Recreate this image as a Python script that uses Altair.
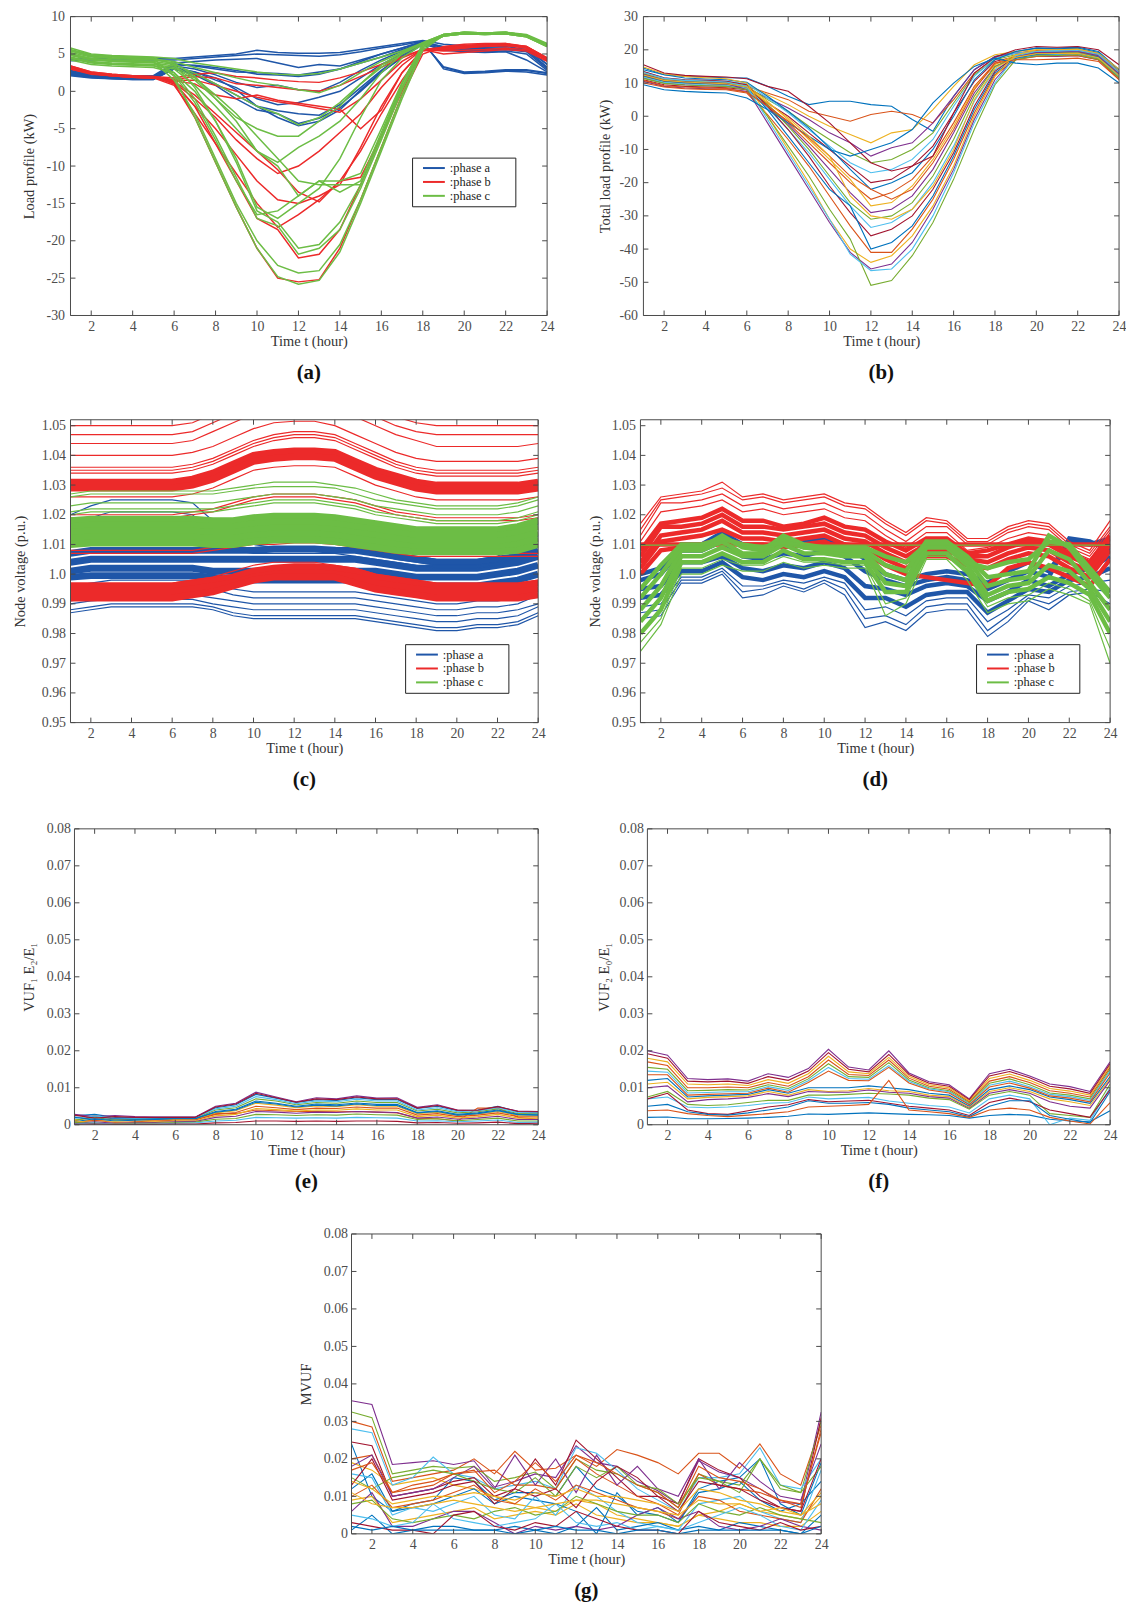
import altair as alt
import pandas as pd

# ---------------------------------------------------------------- data
hours = list(range(1, 25))
hour_ticks = [2, 4, 6, 8, 10, 12, 14, 16, 18, 20, 22, 24]
load_ticks = [-30, -25, -20, -15, -10, -5, 0, 5, 10]
total_ticks = [-60, -50, -40, -30, -20, -10, 0, 10, 20, 30]
voltage_ticks = [0.95, 0.96, 0.97, 0.98, 0.99, 1.0, 1.01, 1.02, 1.03, 1.04, 1.05]
vuf_ticks = [0, 0.01, 0.02, 0.03, 0.04, 0.05, 0.06, 0.07, 0.08]
phase_names = ["phase a", "phase b", "phase c"]

# (a) per-phase load profiles, kW
a_phase_a = [
    [4.3, 4.4, 4.4, 4.4, 4.4, 4.4, 4.6, 4.8, 5.0, 5.5, 5.2, 5.1, 5.1, 5.2, 5.6, 6.0, 6.4, 6.8, 6.3, 6.1, 6.1, 6.2, 5.9, 3.6],
    [4.1, 4.2, 4.2, 4.2, 4.2, 4.2, 4.4, 4.6, 4.8, 5.0, 4.9, 4.8, 4.7, 4.9, 5.3, 5.8, 6.2, 6.7, 5.9, 5.7, 5.8, 5.8, 5.5, 3.2],
    [2.8, 2.4, 2.2, 2.1, 2.1, 3.8, 4.0, 4.2, 4.3, 4.4, 3.8, 3.2, 3.6, 3.4, 4.2, 5.0, 5.8, 6.6, 3.2, 2.5, 2.6, 2.8, 2.8, 2.4],
    [2.6, 2.2, 2.0, 1.9, 1.9, 3.6, 3.4, 3.0, 2.6, 2.5, 2.4, 2.2, 2.6, 3.0, 3.8, 4.6, 5.6, 6.5, 3.3, 2.6, 2.7, 2.9, 2.9, 2.5],
    [2.5, 2.1, 1.9, 1.8, 1.8, 3.4, 3.0, 2.2, 1.2, 0.5, 0.8, 0.2, 0.0, 1.2, 2.8, 4.2, 5.4, 6.6, 5.8, 5.6, 5.7, 5.7, 5.6, 3.6],
    [2.4, 2.0, 1.8, 1.7, 1.7, 3.2, 2.6, 1.5, 0.5, -1.0, -1.8, -1.5, -0.8, 0.0, 1.8, 3.6, 5.0, 6.4, 5.6, 5.4, 5.5, 5.6, 5.3, 3.0],
    [2.3, 2.0, 1.8, 1.7, 1.7, 3.0, 2.4, 1.0, -0.5, -2.0, -2.6, -3.0, -3.2, -1.8, 0.5, 2.8, 4.8, 6.5, 6.0, 5.8, 5.9, 6.0, 5.6, 3.2],
    [2.2, 1.9, 1.7, 1.6, 1.6, 3.0, 2.2, 0.8, -1.0, -2.5, -3.0, -4.3, -3.6, -2.2, 0.0, 2.5, 4.6, 6.4, 5.5, 5.3, 5.2, 5.3, 4.2, 2.6],
    [2.7, 2.3, 2.1, 2.0, 2.0, 3.6, 3.5, 3.2, 2.8, 2.3, 2.2, 2.0, 2.3, 3.0, 4.0, 5.0, 5.8, 6.7, 3.0, 2.4, 2.5, 2.7, 2.6, 2.2],
    [2.1, 1.8, 1.7, 1.6, 1.6, 3.0, 2.6, 1.8, 0.2, -2.0, -3.5, -4.6, -4.0, -2.5, 0.2, 2.6, 4.5, 6.3, 5.7, 5.4, 5.3, 5.4, 5.0, 2.8],
]
a_phase_b = [
    [3.4, 2.6, 2.3, 2.1, 2.0, 1.8, 2.3, 2.5, 2.0, 1.8, 1.5, 1.3, 1.2, 1.8, 2.6, 3.6, 4.6, 5.6, 5.4, 5.5, 5.6, 5.8, 5.6, 4.2],
    [3.2, 2.5, 2.2, 2.0, 1.9, 1.6, 2.0, 1.8, 1.0, 0.8, 0.5, 0.2, 0.0, 0.8, 2.0, 3.2, 4.5, 5.6, 5.0, 5.2, 5.4, 5.6, 5.4, 4.0],
    [3.0, 2.4, 2.1, 1.9, 1.8, 1.5, 1.5, 0.8, 0.0, -0.8, -1.4, -1.8, -2.3, -2.8, -1.0, 1.5, 4.0, 5.6, 5.8, 6.0, 6.2, 6.3, 6.0, 4.4],
    [3.3, 2.5, 2.2, 2.0, 1.9, 1.4, 1.0, -0.5, -1.0, -0.5, -1.2, -1.6, -2.0, -2.4, -5.0, -2.5, 2.5, 5.5, 5.5, 5.8, 6.1, 6.2, 5.9, 4.3],
    [3.1, 2.4, 2.1, 1.9, 1.8, 1.2, -1.0, -3.5, -6.5, -9.0, -11.0, -10.0, -8.0, -5.5, -3.0, 0.5, 3.5, 5.6, 5.6, 5.8, 6.0, 6.1, 5.8, 4.1],
    [3.2, 2.5, 2.2, 2.0, 1.9, 1.0, -2.0, -5.0, -8.5, -12.0, -14.5, -15.0, -14.0, -12.5, -7.5, -2.0, 2.5, 5.6, 5.9, 6.1, 6.3, 6.3, 6.0, 4.5],
    [3.0, 2.3, 2.1, 1.9, 1.8, 0.8, -3.0, -7.0, -11.0, -15.0, -18.2, -16.5, -14.5, -12.0, -8.0, -3.0, 1.5, 5.4, 5.7, 6.0, 6.2, 6.2, 5.9, 4.3],
    [3.3, 2.5, 2.2, 2.0, 1.9, 1.2, -2.0, -7.0, -12.0, -17.0, -18.5, -22.3, -21.8, -18.5, -12.5, -6.0, 0.5, 5.5, 5.8, 6.1, 6.3, 6.4, 6.0, 4.4],
    [3.4, 2.6, 2.3, 2.1, 2.0, 1.0, -3.5, -9.5, -15.5, -21.0, -25.0, -25.5, -25.2, -21.0, -14.5, -7.5, -0.5, 5.0, 6.0, 6.3, 6.4, 6.4, 5.8, 4.3],
    [3.1, 2.4, 2.1, 1.9, 1.8, 1.3, -0.5, -3.0, -5.5, -8.0, -10.5, -13.5, -14.8, -12.0, -11.5, -6.0, 0.0, 5.5, 5.7, 5.9, 6.1, 6.2, 5.9, 4.2],
]
a_phase_c = [
    [5.8, 5.0, 4.8, 4.7, 4.6, 4.4, 3.8, 3.4, 3.0, 2.6, 2.3, 2.2, 2.4, 3.0, 3.8, 4.6, 5.4, 6.5, 7.6, 7.9, 7.8, 7.9, 7.6, 6.4],
    [5.4, 4.7, 4.5, 4.4, 4.3, 4.0, 3.2, 2.5, 1.8, 1.2, 0.8, 0.2, -0.2, 0.8, 2.5, 4.0, 5.2, 6.4, 7.5, 7.8, 7.8, 7.8, 7.5, 6.2],
    [5.0, 4.4, 4.2, 4.1, 4.0, 3.6, 2.4, 1.0, -0.5, -2.0, -3.0, -4.5, -3.5, -1.5, 1.0, 3.2, 5.0, 6.4, 7.4, 7.7, 7.6, 7.7, 7.4, 6.1],
    [4.6, 4.0, 3.8, 3.7, 3.6, 3.2, 1.5, -1.0, -3.5, -5.0, -6.0, -6.0, -4.0, -2.0, 1.0, 3.5, 5.2, 6.4, 7.5, 7.8, 7.7, 7.8, 7.4, 6.2],
    [4.4, 3.8, 3.6, 3.5, 3.4, 3.0, 0.8, -2.0, -5.0, -8.0, -9.5, -7.5, -6.0, -4.0, -1.0, 2.5, 5.0, 6.5, 7.6, 7.9, 7.8, 7.9, 7.5, 6.3],
    [4.8, 4.2, 4.0, 3.9, 3.8, 3.4, 1.8, -0.5, -3.0, -6.0, -9.0, -12.0, -12.5, -12.5, -12.5, -6.0, 1.0, 6.3, 7.5, 7.8, 7.7, 7.8, 7.4, 6.1],
    [5.2, 4.6, 4.4, 4.3, 4.2, 3.8, 2.0, -1.0, -4.0, -8.0, -10.0, -14.0, -12.0, -13.5, -12.0, -5.5, 1.0, 6.3, 7.6, 7.9, 7.8, 7.9, 7.5, 6.2],
    [4.2, 3.6, 3.4, 3.3, 3.2, 2.5, 0.0, -4.0, -9.0, -15.5, -17.0, -15.0, -13.0, -9.0, -3.5, 1.5, 4.5, 6.3, 7.4, 7.7, 7.7, 7.7, 7.3, 6.0],
    [5.6, 4.9, 4.7, 4.6, 4.5, 3.6, 0.5, -4.0, -9.5, -16.0, -17.5, -21.0, -20.5, -17.5, -12.5, -6.0, 0.5, 6.2, 7.5, 7.8, 7.8, 7.8, 7.4, 6.3],
    [4.9, 4.3, 4.1, 4.0, 3.9, 2.5, -1.0, -6.0, -11.5, -17.0, -18.0, -21.8, -21.0, -18.5, -13.0, -6.5, 0.2, 6.0, 7.4, 7.7, 7.6, 7.7, 7.3, 6.0],
    [5.5, 4.8, 4.6, 4.5, 4.4, 2.0, -3.5, -9.5, -15.5, -21.0, -24.8, -25.8, -25.3, -21.5, -15.0, -8.0, -1.0, 5.5, 7.5, 7.8, 7.8, 7.9, 7.5, 6.2],
    [5.0, 4.4, 4.2, 4.1, 4.0, 1.5, -3.0, -9.0, -15.0, -20.0, -23.3, -24.3, -24.0, -20.5, -14.5, -7.5, -0.5, 5.8, 7.6, 7.9, 7.8, 7.8, 7.4, 6.0],
    [4.5, 3.9, 3.7, 3.6, 3.5, 2.2, -1.5, -6.5, -12.0, -16.5, -16.0, -14.0, -12.0, -12.0, -11.0, -5.0, 1.2, 6.2, 7.4, 7.7, 7.6, 7.7, 7.3, 6.1],
]

# (b) total load profile per bus, kW
b_total = [
    [14.0, 12.5, 12.0, 11.8, 11.6, 11.5, 9.0, 6.0, 3.5, 4.5, 4.5, 3.5, 3.0, -1.0, -4.5, 6.0, 14.0, 18.0, 19.5, 20.5, 20.5, 20.8, 19.5, 14.0],
    [12.0, 10.5, 10.0, 9.8, 9.6, 9.0, 7.0, 5.0, 1.5, 0.0, -1.5, 0.5, 1.5, 0.5, -2.0, 5.0, 13.0, 17.5, 19.0, 19.8, 19.6, 19.5, 18.5, 13.0],
    [13.0, 11.0, 10.5, 10.2, 10.0, 9.5, 6.5, 3.5, 0.0, -3.0, -5.5, -8.0, -5.0, -4.0, 2.0, 9.0, 15.5, 18.5, 19.5, 20.0, 20.0, 20.2, 19.0, 13.5],
    [11.5, 10.0, 9.5, 9.2, 9.0, 8.5, 5.5, 2.5, -1.0, -5.0, -8.0, -12.0, -9.5, -8.0, -2.0, 6.0, 14.0, 18.0, 19.0, 19.5, 19.5, 19.8, 18.5, 13.0],
    [12.5, 10.8, 10.2, 10.0, 9.8, 9.0, 5.0, 1.5, -3.0, -7.0, -11.0, -14.0, -13.0, -10.0, -5.0, 4.0, 12.5, 17.0, 18.5, 19.0, 19.0, 19.2, 18.0, 12.5],
    [13.5, 11.5, 11.0, 10.8, 10.5, 9.8, 5.5, 1.0, -4.0, -9.0, -14.0, -17.0, -16.0, -13.0, -7.0, 3.0, 12.0, 17.5, 19.0, 19.5, 19.8, 20.0, 18.8, 13.0],
    [11.0, 9.5, 9.0, 8.8, 8.6, 8.0, 4.0, 0.0, -5.0, -10.0, -15.0, -20.0, -19.0, -15.0, -9.0, 1.0, 10.5, 16.5, 18.0, 18.5, 18.5, 18.8, 17.5, 12.0],
    [14.5, 12.5, 11.5, 11.2, 11.0, 10.2, 6.0, 1.5, -3.5, -9.5, -16.0, -22.0, -20.0, -17.0, -10.0, 0.0, 11.0, 17.0, 19.5, 20.5, 20.3, 20.5, 19.2, 14.0],
    [12.0, 10.5, 10.0, 9.8, 9.5, 8.5, 3.5, -2.0, -8.0, -14.0, -20.0, -25.0, -23.0, -19.0, -12.0, -2.0, 9.0, 16.0, 18.0, 18.5, 18.8, 19.0, 17.8, 12.5],
    [13.0, 11.2, 10.6, 10.4, 10.2, 9.2, 4.5, -1.0, -7.0, -13.0, -19.0, -27.0, -26.0, -21.0, -13.0, -3.0, 8.5, 15.5, 18.5, 19.5, 19.5, 19.7, 18.5, 13.0],
    [10.5, 9.0, 8.5, 8.3, 8.2, 7.5, 3.0, -2.5, -9.0, -16.0, -23.0, -29.0, -28.0, -24.0, -16.0, -5.0, 7.0, 15.0, 17.5, 18.0, 18.0, 18.2, 17.0, 11.5],
    [12.8, 11.0, 10.5, 10.2, 10.0, 9.0, 3.5, -3.0, -10.0, -18.0, -26.0, -31.0, -30.0, -26.0, -18.0, -7.0, 6.0, 15.0, 18.0, 19.0, 19.2, 19.3, 18.0, 12.8],
    [11.8, 10.2, 9.8, 9.5, 9.3, 8.5, 2.5, -4.0, -11.0, -19.0, -27.0, -33.5, -32.0, -28.0, -20.0, -9.0, 4.5, 14.0, 17.5, 18.5, 18.6, 18.8, 17.5, 12.0],
    [13.5, 11.6, 11.0, 10.8, 10.5, 9.5, 3.0, -4.0, -12.0, -21.0, -29.0, -36.0, -34.0, -30.0, -22.0, -11.0, 3.0, 13.5, 18.0, 19.3, 19.5, 19.6, 18.5, 13.2],
    [12.2, 10.6, 10.1, 9.9, 9.7, 8.8, 2.0, -6.0, -14.0, -22.0, -27.0, -40.0, -38.0, -33.0, -24.0, -12.0, 2.0, 13.0, 17.5, 18.6, 18.8, 19.0, 17.8, 12.5],
    [10.0, 8.8, 8.3, 8.1, 8.0, 7.0, 0.5, -7.0, -15.0, -24.0, -33.0, -41.0, -41.0, -34.0, -25.0, -13.0, 1.0, 12.5, 17.0, 18.0, 18.2, 18.3, 17.0, 11.0],
    [14.8, 12.8, 12.0, 11.6, 11.3, 10.0, 0.0, -10.0, -20.0, -31.0, -40.0, -44.0, -42.0, -36.0, -27.0, -15.0, 0.0, 12.0, 18.5, 20.0, 20.0, 20.2, 19.0, 14.2],
    [12.6, 10.9, 10.4, 10.1, 9.9, 8.0, -2.0, -12.0, -22.0, -32.0, -41.0, -46.0, -44.5, -38.0, -28.0, -16.0, -1.0, 11.0, 18.0, 19.2, 19.3, 19.5, 18.2, 12.8],
    [11.4, 9.9, 9.4, 9.2, 9.0, 8.0, 0.0, -9.0, -18.0, -28.0, -37.0, -50.9, -49.5, -42.0, -32.0, -19.0, -4.0, 9.5, 17.0, 18.2, 18.3, 18.5, 17.2, 11.6],
    [13.2, 11.4, 10.8, 10.6, 10.3, 9.0, -1.0, -11.0, -21.0, -31.0, -41.5, -46.5, -46.0, -40.0, -30.0, -17.0, -2.0, 10.0, 18.2, 19.5, 19.6, 19.8, 18.6, 13.2],
    [15.5, 13.0, 12.3, 12.0, 11.8, 11.3, 9.0, 7.5, 3.0, -2.0, -8.0, -14.0, -16.5, -15.0, -12.0, 1.0, 13.0, 17.8, 20.0, 21.0, 20.8, 21.0, 20.0, 15.5],
    [9.5, 8.0, 7.5, 7.2, 7.0, 5.5, 2.0, -2.0, -6.0, -10.0, -12.0, -10.0, -8.0, -4.0, 4.0, 10.0, 15.0, 17.5, 16.0, 15.5, 16.0, 16.0, 14.5, 10.0],
    [10.8, 9.2, 8.8, 8.6, 8.4, 7.2, 3.0, -1.5, -6.5, -12.0, -18.0, -22.0, -25.0, -22.0, -14.0, -4.0, 8.0, 16.0, 17.0, 17.0, 17.2, 17.5, 16.5, 11.0],
    [12.4, 10.8, 10.3, 10.0, 9.8, 8.8, 4.0, -0.5, -6.0, -12.0, -24.0, -30.0, -31.0, -28.0, -21.0, -10.0, 5.0, 14.5, 17.8, 18.8, 18.9, 19.0, 17.6, 12.3],
]

# (c) node voltages, p.u.
c_phase_a = [
    [0.987, 0.988, 0.989, 0.989, 0.989, 0.989, 0.989, 0.988, 0.986, 0.985, 0.985, 0.985, 0.985, 0.985, 0.985, 0.984, 0.983, 0.982, 0.981, 0.981, 0.982, 0.982, 0.983, 0.986],
    [0.988, 0.989, 0.990, 0.990, 0.990, 0.990, 0.990, 0.989, 0.987, 0.986, 0.986, 0.986, 0.986, 0.986, 0.986, 0.985, 0.984, 0.983, 0.982, 0.982, 0.983, 0.983, 0.984, 0.987],
    [0.990, 0.991, 0.9915, 0.9915, 0.9915, 0.9915, 0.9915, 0.990, 0.989, 0.988, 0.988, 0.988, 0.988, 0.988, 0.988, 0.987, 0.986, 0.985, 0.984, 0.984, 0.985, 0.985, 0.986, 0.989],
    [0.991, 0.992, 0.993, 0.993, 0.993, 0.993, 0.993, 0.992, 0.991, 0.990, 0.990, 0.990, 0.990, 0.990, 0.990, 0.989, 0.988, 0.987, 0.986, 0.986, 0.987, 0.987, 0.988, 0.990],
    [0.994, 0.995, 0.996, 0.996, 0.996, 0.996, 0.996, 0.995, 0.993, 0.992, 0.992, 0.992, 0.992, 0.992, 0.992, 0.991, 0.990, 0.989, 0.988, 0.988, 0.989, 0.989, 0.990, 0.993],
    [0.996, 0.997, 0.998, 0.998, 0.998, 0.998, 0.998, 0.997, 0.995, 0.994, 0.994, 0.994, 0.994, 0.994, 0.994, 0.993, 0.992, 0.991, 0.990, 0.990, 0.991, 0.991, 0.992, 0.995],
    [1.020, 1.023, 1.025, 1.025, 1.025, 1.025, 1.024, 1.018, 1.014, 1.012, 1.011, 1.011, 1.011, 1.011, 1.010, 1.009, 1.007, 1.006, 1.005, 1.005, 1.005, 1.006, 1.010, 1.019],
    [1.016, 1.019, 1.021, 1.021, 1.021, 1.021, 1.020, 1.014, 1.011, 1.010, 1.009, 1.009, 1.009, 1.009, 1.008, 1.007, 1.005, 1.004, 1.003, 1.003, 1.003, 1.004, 1.008, 1.017],
    [1.011, 1.013, 1.014, 1.014, 1.014, 1.014, 1.013, 1.010, 1.008, 1.007, 1.007, 1.007, 1.007, 1.007, 1.006, 1.005, 1.004, 1.003, 1.002, 1.002, 1.002, 1.003, 1.006, 1.013],
]
c_phase_a_dense = [
    [1.007, 1.008, 1.008, 1.008, 1.008, 1.008, 1.008, 1.008, 1.008, 1.008, 1.0085, 1.0085, 1.0085, 1.008, 1.008, 1.007, 1.006, 1.005, 1.004, 1.004, 1.004, 1.005, 1.006, 1.008],
    [1.004, 1.005, 1.005, 1.005, 1.005, 1.005, 1.005, 1.005, 1.005, 1.005, 1.005, 1.005, 1.005, 1.005, 1.005, 1.004, 1.003, 1.002, 1.002, 1.002, 1.002, 1.003, 1.004, 1.006],
    [1.001, 1.002, 1.002, 1.002, 1.002, 1.002, 1.002, 1.001, 1.001, 1.001, 1.001, 1.001, 1.001, 1.001, 1.001, 1.001, 1.000, 0.999, 0.999, 0.999, 0.999, 1.000, 1.001, 1.003],
    [0.999, 0.9995, 0.9995, 0.9995, 0.9995, 0.9995, 0.9995, 0.999, 0.998, 0.998, 0.998, 0.998, 0.998, 0.998, 0.998, 0.998, 0.997, 0.996, 0.996, 0.996, 0.996, 0.997, 0.998, 1.000],
]
c_phase_b = [
    [1.050, 1.050, 1.050, 1.050, 1.050, 1.050, 1.051, 1.054, 1.057, 1.060, 1.062, 1.063, 1.063, 1.062, 1.059, 1.056, 1.053, 1.051, 1.050, 1.050, 1.050, 1.050, 1.050, 1.050],
    [1.047, 1.047, 1.047, 1.047, 1.047, 1.047, 1.048, 1.051, 1.054, 1.057, 1.059, 1.060, 1.060, 1.059, 1.056, 1.053, 1.050, 1.048, 1.047, 1.047, 1.047, 1.047, 1.047, 1.047],
    [1.044, 1.044, 1.044, 1.044, 1.044, 1.044, 1.045, 1.048, 1.051, 1.054, 1.056, 1.057, 1.057, 1.056, 1.053, 1.050, 1.047, 1.045, 1.043, 1.043, 1.043, 1.043, 1.043, 1.044],
    [1.040, 1.040, 1.040, 1.040, 1.040, 1.040, 1.041, 1.043, 1.046, 1.049, 1.051, 1.0515, 1.0515, 1.050, 1.047, 1.044, 1.041, 1.039, 1.038, 1.038, 1.038, 1.038, 1.038, 1.039],
    [1.036, 1.036, 1.036, 1.036, 1.036, 1.036, 1.037, 1.039, 1.042, 1.045, 1.047, 1.048, 1.048, 1.047, 1.044, 1.041, 1.038, 1.036, 1.035, 1.035, 1.035, 1.035, 1.035, 1.036],
    [1.035, 1.035, 1.035, 1.035, 1.035, 1.035, 1.036, 1.038, 1.041, 1.044, 1.046, 1.047, 1.047, 1.046, 1.043, 1.040, 1.037, 1.035, 1.034, 1.034, 1.034, 1.034, 1.034, 1.035],
    [1.034, 1.034, 1.034, 1.034, 1.034, 1.034, 1.035, 1.037, 1.040, 1.043, 1.045, 1.046, 1.046, 1.045, 1.042, 1.039, 1.036, 1.034, 1.033, 1.033, 1.033, 1.033, 1.033, 1.034],
    [1.026, 1.026, 1.026, 1.026, 1.026, 1.026, 1.027, 1.029, 1.032, 1.035, 1.036, 1.0365, 1.0365, 1.036, 1.033, 1.030, 1.028, 1.026, 1.025, 1.025, 1.025, 1.025, 1.025, 1.026],
    [1.020, 1.020, 1.020, 1.020, 1.020, 1.020, 1.021, 1.022, 1.024, 1.026, 1.027, 1.027, 1.027, 1.026, 1.025, 1.023, 1.021, 1.020, 1.019, 1.019, 1.019, 1.019, 1.019, 1.020],
    [1.019, 1.019, 1.019, 1.019, 1.019, 1.019, 1.020, 1.021, 1.023, 1.025, 1.026, 1.026, 1.026, 1.025, 1.024, 1.022, 1.020, 1.019, 1.018, 1.018, 1.018, 1.018, 1.018, 1.019],
    [1.008, 1.008, 1.008, 1.008, 1.008, 1.008, 1.008, 1.009, 1.010, 1.011, 1.011, 1.0115, 1.0115, 1.011, 1.010, 1.009, 1.008, 1.007, 1.007, 1.007, 1.007, 1.007, 1.007, 1.007],
    [1.007, 1.007, 1.007, 1.007, 1.007, 1.007, 1.007, 1.008, 1.009, 1.010, 1.010, 1.0105, 1.0105, 1.010, 1.009, 1.008, 1.007, 1.006, 1.006, 1.006, 1.006, 1.006, 1.006, 1.006],
    [0.997, 0.997, 0.997, 0.997, 0.997, 0.997, 0.998, 0.999, 1.001, 1.003, 1.004, 1.004, 1.004, 1.003, 1.002, 1.000, 0.999, 0.998, 0.997, 0.997, 0.997, 0.997, 0.997, 0.998],
]
c_phase_b_dense = [
    [1.031, 1.031, 1.031, 1.031, 1.031, 1.031, 1.032, 1.034, 1.037, 1.040, 1.041, 1.0415, 1.0415, 1.041, 1.038, 1.035, 1.033, 1.031, 1.030, 1.030, 1.030, 1.030, 1.030, 1.031],
    [1.029, 1.029, 1.029, 1.029, 1.029, 1.029, 1.030, 1.032, 1.035, 1.038, 1.039, 1.0395, 1.0395, 1.039, 1.036, 1.033, 1.031, 1.029, 1.028, 1.028, 1.028, 1.028, 1.028, 1.029],
    [0.996, 0.996, 0.996, 0.996, 0.996, 0.996, 0.997, 0.998, 0.999, 1.001, 1.002, 1.0025, 1.0025, 1.002, 1.001, 0.999, 0.998, 0.997, 0.996, 0.996, 0.996, 0.996, 0.996, 0.997],
    [0.994, 0.994, 0.994, 0.994, 0.994, 0.994, 0.995, 0.996, 0.997, 0.999, 1.000, 1.0005, 1.0005, 1.000, 0.999, 0.997, 0.996, 0.995, 0.994, 0.994, 0.994, 0.994, 0.994, 0.995],
    [0.992, 0.992, 0.992, 0.992, 0.992, 0.992, 0.993, 0.994, 0.996, 0.998, 0.999, 0.999, 0.999, 0.999, 0.997, 0.995, 0.994, 0.993, 0.992, 0.992, 0.992, 0.992, 0.992, 0.993],
]
c_phase_c = [
    [1.027, 1.028, 1.028, 1.028, 1.028, 1.028, 1.028, 1.028, 1.029, 1.030, 1.031, 1.031, 1.031, 1.030, 1.029, 1.027, 1.025, 1.024, 1.023, 1.023, 1.023, 1.023, 1.024, 1.026],
    [1.026, 1.027, 1.027, 1.027, 1.027, 1.027, 1.027, 1.027, 1.028, 1.029, 1.0295, 1.0295, 1.0295, 1.029, 1.027, 1.025, 1.024, 1.023, 1.022, 1.022, 1.022, 1.022, 1.023, 1.025],
    [1.023, 1.024, 1.024, 1.024, 1.024, 1.024, 1.024, 1.024, 1.025, 1.026, 1.027, 1.027, 1.027, 1.026, 1.025, 1.023, 1.022, 1.021, 1.020, 1.020, 1.020, 1.020, 1.021, 1.023],
    [1.021, 1.022, 1.022, 1.022, 1.022, 1.022, 1.022, 1.022, 1.023, 1.024, 1.025, 1.025, 1.025, 1.024, 1.023, 1.021, 1.020, 1.019, 1.018, 1.018, 1.018, 1.018, 1.019, 1.021],
    [1.020, 1.021, 1.021, 1.021, 1.021, 1.021, 1.021, 1.021, 1.022, 1.023, 1.024, 1.024, 1.024, 1.023, 1.022, 1.020, 1.019, 1.018, 1.017, 1.017, 1.017, 1.017, 1.018, 1.020],
]
c_phase_c_dense = [
    [1.018, 1.0185, 1.0185, 1.0185, 1.0185, 1.0185, 1.0185, 1.018, 1.018, 1.019, 1.0195, 1.0195, 1.0195, 1.019, 1.018, 1.017, 1.016, 1.015, 1.015, 1.015, 1.015, 1.015, 1.016, 1.018],
    [1.016, 1.0165, 1.0165, 1.0165, 1.0165, 1.0165, 1.0165, 1.016, 1.016, 1.017, 1.0175, 1.0175, 1.0175, 1.017, 1.016, 1.015, 1.014, 1.013, 1.013, 1.013, 1.013, 1.013, 1.014, 1.016],
    [1.014, 1.0145, 1.0145, 1.0145, 1.0145, 1.0145, 1.0145, 1.014, 1.014, 1.015, 1.0155, 1.0155, 1.0155, 1.015, 1.014, 1.013, 1.012, 1.011, 1.011, 1.011, 1.011, 1.011, 1.012, 1.014],
    [1.012, 1.0125, 1.0125, 1.0125, 1.0125, 1.0125, 1.0125, 1.012, 1.012, 1.013, 1.0135, 1.0135, 1.0135, 1.013, 1.012, 1.011, 1.010, 1.009, 1.009, 1.009, 1.009, 1.009, 1.010, 1.012],
    [1.010, 1.0105, 1.0105, 1.0105, 1.0105, 1.0105, 1.0105, 1.010, 1.010, 1.011, 1.0115, 1.0115, 1.0115, 1.011, 1.010, 1.009, 1.008, 1.0075, 1.0075, 1.0075, 1.0075, 1.0075, 1.008, 1.010],
]

# (d) node voltages after optimisation, p.u.
d_phase_a = [
    [0.985, 0.986, 0.997, 0.997, 1.000, 0.992, 0.993, 0.996, 0.994, 0.997, 0.993, 0.982, 0.984, 0.981, 0.987, 0.988, 0.988, 0.979, 0.984, 0.991, 0.988, 0.993, 0.994, 0.990],
    [0.987, 0.988, 0.998, 0.998, 1.001, 0.994, 0.995, 0.997, 0.995, 0.998, 0.995, 0.985, 0.986, 0.983, 0.989, 0.990, 0.990, 0.981, 0.986, 0.992, 0.990, 0.994, 0.995, 0.994],
    [0.989, 0.990, 0.999, 0.999, 1.002, 0.996, 0.996, 0.998, 0.997, 0.999, 0.997, 0.988, 0.989, 0.986, 0.991, 0.992, 0.992, 0.984, 0.988, 0.993, 0.992, 0.996, 0.997, 0.998],
]
d_phase_a_dense = [
    [0.992, 0.993, 1.001, 1.001, 1.004, 0.999, 0.998, 1.000, 0.999, 1.001, 0.999, 0.992, 0.992, 0.989, 0.993, 0.994, 0.994, 0.987, 0.991, 0.995, 0.994, 0.998, 0.999, 1.002],
    [0.995, 0.996, 1.004, 1.004, 1.006, 1.002, 1.001, 1.003, 1.002, 1.004, 1.002, 0.996, 0.995, 0.993, 0.996, 0.997, 0.996, 0.991, 0.994, 0.998, 0.996, 1.000, 1.002, 1.006],
    [0.998, 1.000, 1.008, 1.008, 1.011, 1.006, 1.005, 1.007, 1.006, 1.008, 1.006, 1.001, 0.998, 0.996, 0.998, 0.999, 0.998, 0.995, 0.998, 1.001, 0.999, 1.012, 1.011, 1.008],
    [1.000, 1.002, 1.010, 1.010, 1.014, 1.010, 1.009, 1.010, 1.011, 1.012, 1.010, 1.005, 1.000, 0.998, 1.000, 1.001, 1.000, 0.997, 1.001, 1.004, 1.001, 1.011, 1.010, 1.012],
]
d_phase_b = [
    [1.017, 1.026, 1.027, 1.028, 1.031, 1.026, 1.027, 1.025, 1.026, 1.027, 1.024, 1.023, 1.018, 1.014, 1.019, 1.018, 1.012, 1.012, 1.016, 1.018, 1.017, 1.011, 1.008, 1.018],
    [1.015, 1.025, 1.026, 1.027, 1.029, 1.025, 1.026, 1.024, 1.025, 1.026, 1.023, 1.022, 1.017, 1.013, 1.018, 1.017, 1.011, 1.011, 1.015, 1.017, 1.016, 1.010, 1.007, 1.016],
    [1.013, 1.024, 1.024, 1.025, 1.027, 1.023, 1.024, 1.022, 1.023, 1.024, 1.021, 1.020, 1.015, 1.011, 1.016, 1.016, 1.010, 1.010, 1.014, 1.016, 1.015, 1.009, 1.006, 1.015],
    [1.011, 1.021, 1.022, 1.023, 1.025, 1.021, 1.022, 1.020, 1.021, 1.022, 1.019, 1.018, 1.013, 1.009, 1.014, 1.014, 1.008, 1.009, 1.012, 1.014, 1.013, 1.008, 1.005, 1.014],
]
d_phase_b_dense = [
    [1.008, 1.017, 1.018, 1.019, 1.022, 1.018, 1.018, 1.016, 1.017, 1.019, 1.016, 1.015, 1.011, 1.008, 1.012, 1.012, 1.007, 1.008, 1.010, 1.012, 1.011, 1.007, 1.004, 1.013],
    [1.006, 1.016, 1.016, 1.017, 1.020, 1.016, 1.016, 1.015, 1.016, 1.017, 1.014, 1.013, 1.009, 1.006, 1.010, 1.010, 1.006, 1.006, 1.009, 1.011, 1.010, 1.006, 1.003, 1.012],
    [1.004, 1.013, 1.014, 1.015, 1.018, 1.014, 1.014, 1.013, 1.014, 1.015, 1.012, 1.011, 1.007, 1.004, 1.008, 1.008, 1.005, 1.004, 1.007, 1.009, 1.008, 1.004, 1.001, 1.010],
    [1.002, 1.011, 1.012, 1.013, 1.015, 1.012, 1.012, 1.011, 1.012, 1.013, 1.010, 1.009, 1.005, 1.002, 1.006, 1.006, 1.003, 1.002, 1.005, 1.007, 1.006, 1.002, 0.999, 1.008],
    [1.000, 1.008, 1.009, 1.010, 1.012, 1.010, 1.010, 1.009, 1.010, 1.011, 1.008, 1.007, 1.003, 1.000, 0.999, 0.998, 0.997, 0.996, 1.002, 1.004, 1.002, 0.999, 0.996, 1.005],
    [1.010, 1.010, 1.010, 1.010, 1.010, 1.010, 1.010, 1.010, 1.010, 1.010, 1.010, 1.010, 1.010, 1.010, 1.010, 1.010, 1.010, 1.010, 1.010, 1.010, 1.010, 1.010, 1.010, 1.010],
]
d_phase_c = [
    [0.974, 0.983, 1.000, 1.000, 1.003, 1.001, 1.001, 1.004, 1.002, 1.003, 1.002, 1.002, 0.986, 0.990, 1.005, 1.005, 0.998, 0.987, 0.990, 0.991, 0.995, 0.993, 0.990, 0.970],
    [0.977, 0.985, 1.002, 1.002, 1.005, 1.003, 1.003, 1.006, 1.004, 1.004, 1.003, 1.003, 0.990, 0.992, 1.006, 1.006, 1.000, 0.989, 0.992, 0.993, 0.997, 0.995, 0.991, 0.975],
    [1.0098, 1.0098, 1.0098, 1.0098, 1.0098, 1.0098, 1.0098, 1.0098, 1.0098, 1.0098, 1.0098, 1.0098, 1.0098, 1.0098, 1.0098, 1.0098, 1.0098, 1.0098, 1.0098, 1.0098, 1.0098, 1.0098, 1.0098, 1.0098],
]
d_phase_c_dense = [
    [0.980, 0.988, 1.004, 1.004, 1.007, 1.004, 1.004, 1.008, 1.005, 1.005, 1.004, 1.004, 0.994, 0.994, 1.007, 1.007, 1.001, 0.991, 0.994, 0.995, 0.999, 0.997, 0.993, 0.980],
    [0.984, 0.992, 1.006, 1.006, 1.009, 1.006, 1.006, 1.010, 1.007, 1.007, 1.006, 1.006, 0.997, 0.996, 1.009, 1.009, 1.003, 0.993, 0.996, 0.997, 1.003, 1.001, 0.995, 0.984],
    [0.988, 0.996, 1.008, 1.008, 1.011, 1.007, 1.007, 1.012, 1.009, 1.008, 1.007, 1.007, 1.000, 0.998, 1.010, 1.010, 1.005, 0.996, 0.998, 0.999, 1.008, 1.005, 0.997, 0.988],
    [0.992, 1.000, 1.009, 1.009, 1.013, 1.009, 1.008, 1.013, 1.010, 1.009, 1.008, 1.008, 1.003, 1.001, 1.011, 1.011, 1.006, 0.999, 1.000, 1.001, 1.013, 1.009, 1.000, 0.992],
    [0.995, 1.003, 1.010, 1.010, 1.012, 1.010, 1.009, 1.011, 1.009, 1.009, 1.009, 1.009, 1.006, 1.004, 1.010, 1.010, 1.004, 1.002, 1.004, 1.005, 1.011, 1.010, 1.002, 0.994],
]

# (e) VUF1 = E2/E1
e_vuf1 = [
    [0.0024, 0.0028, 0.0020, 0.0019, 0.0020, 0.0020, 0.0020, 0.0046, 0.0054, 0.0082, 0.0072, 0.0060, 0.0068, 0.0066, 0.0073, 0.0068, 0.0068, 0.0044, 0.0050, 0.0038, 0.0040, 0.0050, 0.0035, 0.0034],
    [0.0010, 0.0025, 0.0015, 0.0014, 0.0014, 0.0015, 0.0015, 0.0030, 0.0030, 0.0040, 0.0038, 0.0036, 0.0036, 0.0035, 0.0036, 0.0034, 0.0032, 0.0018, 0.0016, 0.0010, 0.0045, 0.0045, 0.0020, 0.0015],
    [0.0015, 0.0010, 0.0014, 0.0010, 0.0012, 0.0014, 0.0015, 0.0032, 0.0038, 0.0058, 0.0053, 0.0046, 0.0051, 0.0049, 0.0054, 0.0050, 0.0050, 0.0030, 0.0034, 0.0025, 0.0029, 0.0036, 0.0025, 0.0024],
    [0.0028, 0.0022, 0.0025, 0.0022, 0.0021, 0.0021, 0.0021, 0.0050, 0.0058, 0.0088, 0.0075, 0.0062, 0.0073, 0.0070, 0.0078, 0.0072, 0.0073, 0.0047, 0.0054, 0.0040, 0.0038, 0.0048, 0.0037, 0.0036],
    [0.0012, 0.0020, 0.0012, 0.0014, 0.0016, 0.0018, 0.0018, 0.0040, 0.0046, 0.0070, 0.0064, 0.0054, 0.0060, 0.0058, 0.0064, 0.0060, 0.0060, 0.0037, 0.0042, 0.0032, 0.0035, 0.0043, 0.0030, 0.0030],
    [0.0018, 0.0024, 0.0018, 0.0017, 0.0018, 0.0019, 0.0019, 0.0043, 0.0050, 0.0076, 0.0068, 0.0057, 0.0064, 0.0062, 0.0069, 0.0064, 0.0064, 0.0040, 0.0046, 0.0035, 0.0038, 0.0046, 0.0033, 0.0032],
    [0.0026, 0.0018, 0.0022, 0.0020, 0.0020, 0.0020, 0.0020, 0.0048, 0.0056, 0.0085, 0.0073, 0.0061, 0.0070, 0.0068, 0.0075, 0.0070, 0.0070, 0.0045, 0.0052, 0.0039, 0.0039, 0.0049, 0.0036, 0.0035],
    [0.0008, 0.0016, 0.0010, 0.0012, 0.0014, 0.0016, 0.0016, 0.0036, 0.0042, 0.0064, 0.0058, 0.0050, 0.0056, 0.0054, 0.0059, 0.0055, 0.0055, 0.0033, 0.0038, 0.0028, 0.0032, 0.0040, 0.0028, 0.0027],
    [0.0005, 0.0012, 0.0006, 0.0008, 0.0010, 0.0012, 0.0013, 0.0028, 0.0033, 0.0050, 0.0046, 0.0041, 0.0045, 0.0044, 0.0048, 0.0045, 0.0045, 0.0026, 0.0030, 0.0022, 0.0026, 0.0032, 0.0022, 0.0021],
    [0.0010, 0.0006, 0.0008, 0.0006, 0.0008, 0.0010, 0.0011, 0.0024, 0.0028, 0.0044, 0.0041, 0.0037, 0.0040, 0.0039, 0.0043, 0.0040, 0.0040, 0.0022, 0.0026, 0.0018, 0.0022, 0.0028, 0.0018, 0.0018],
    [0.0003, 0.0008, 0.0004, 0.0005, 0.0006, 0.0008, 0.0009, 0.0020, 0.0023, 0.0036, 0.0034, 0.0031, 0.0034, 0.0033, 0.0036, 0.0034, 0.0033, 0.0018, 0.0021, 0.0015, 0.0018, 0.0023, 0.0014, 0.0014],
    [0.0006, 0.0003, 0.0002, 0.0004, 0.0004, 0.0006, 0.0007, 0.0015, 0.0017, 0.0028, 0.0027, 0.0025, 0.0027, 0.0026, 0.0029, 0.0027, 0.0026, 0.0014, 0.0016, 0.0011, 0.0014, 0.0018, 0.0010, 0.0010],
    [0.0002, 0.0005, 0.0001, 0.0002, 0.0002, 0.0004, 0.0005, 0.0010, 0.0012, 0.0020, 0.0019, 0.0018, 0.0019, 0.0018, 0.0020, 0.0019, 0.0018, 0.0010, 0.0011, 0.0008, 0.0010, 0.0013, 0.0006, 0.0007],
    [0.0001, 0.0002, 0.0001, 0.0001, 0.0001, 0.0002, 0.0002, 0.0005, 0.0006, 0.0010, 0.0010, 0.0009, 0.0010, 0.0009, 0.0010, 0.0010, 0.0009, 0.0005, 0.0006, 0.0004, 0.0005, 0.0007, 0.0003, 0.0004],
    [0.0020, 0.0014, 0.0016, 0.0015, 0.0016, 0.0017, 0.0017, 0.0034, 0.0040, 0.0061, 0.0056, 0.0048, 0.0053, 0.0051, 0.0056, 0.0052, 0.0052, 0.0032, 0.0036, 0.0026, 0.0030, 0.0038, 0.0027, 0.0026],
]

# (f) VUF2 = E0/E1
f_vuf2 = [
    [0.0120, 0.0125, 0.0075, 0.0078, 0.0080, 0.0082, 0.0095, 0.0085, 0.0100, 0.0100, 0.0100, 0.0105, 0.0100, 0.0095, 0.0085, 0.0080, 0.0050, 0.0095, 0.0105, 0.0095, 0.0075, 0.0068, 0.0058, 0.0130],
    [0.0170, 0.0160, 0.0100, 0.0100, 0.0102, 0.0100, 0.0114, 0.0104, 0.0130, 0.0175, 0.0136, 0.0133, 0.0175, 0.0126, 0.0104, 0.0096, 0.0062, 0.0118, 0.0130, 0.0114, 0.0092, 0.0085, 0.0075, 0.0155],
    [0.0180, 0.0170, 0.0110, 0.0108, 0.0110, 0.0106, 0.0122, 0.0112, 0.0138, 0.0185, 0.0143, 0.0138, 0.0182, 0.0131, 0.0108, 0.0100, 0.0065, 0.0125, 0.0137, 0.0120, 0.0098, 0.0091, 0.0080, 0.0160],
    [0.0200, 0.0188, 0.0125, 0.0122, 0.0124, 0.0118, 0.0138, 0.0128, 0.0152, 0.0204, 0.0156, 0.0148, 0.0200, 0.0140, 0.0116, 0.0108, 0.0070, 0.0138, 0.0150, 0.0132, 0.0110, 0.0103, 0.0090, 0.0170],
    [0.0155, 0.0150, 0.0092, 0.0093, 0.0095, 0.0094, 0.0108, 0.0098, 0.0124, 0.0165, 0.0130, 0.0128, 0.0168, 0.0121, 0.0100, 0.0092, 0.0059, 0.0112, 0.0124, 0.0108, 0.0086, 0.0080, 0.0070, 0.0150],
    [0.0145, 0.0142, 0.0086, 0.0087, 0.0089, 0.0089, 0.0103, 0.0093, 0.0119, 0.0155, 0.0125, 0.0123, 0.0160, 0.0117, 0.0097, 0.0089, 0.0056, 0.0107, 0.0118, 0.0103, 0.0082, 0.0076, 0.0066, 0.0145],
    [0.0192, 0.0180, 0.0118, 0.0116, 0.0118, 0.0112, 0.0130, 0.0120, 0.0145, 0.0195, 0.0150, 0.0143, 0.0190, 0.0136, 0.0112, 0.0104, 0.0068, 0.0132, 0.0144, 0.0127, 0.0104, 0.0097, 0.0085, 0.0165],
    [0.0020, 0.0021, 0.0016, 0.0016, 0.0017, 0.0018, 0.0020, 0.0023, 0.0029, 0.0028, 0.0030, 0.0032, 0.0030, 0.0028, 0.0027, 0.0025, 0.0018, 0.0025, 0.0028, 0.0026, 0.0015, 0.0010, 0.0008, 0.0038],
    [0.0135, 0.0135, 0.0080, 0.0082, 0.0084, 0.0085, 0.0099, 0.0088, 0.0114, 0.0145, 0.0120, 0.0119, 0.0155, 0.0113, 0.0094, 0.0086, 0.0054, 0.0102, 0.0113, 0.0099, 0.0078, 0.0072, 0.0062, 0.0140],
    [0.0110, 0.0115, 0.0070, 0.0074, 0.0076, 0.0078, 0.0090, 0.0080, 0.0095, 0.0090, 0.0092, 0.0098, 0.0092, 0.0090, 0.0080, 0.0076, 0.0047, 0.0090, 0.0100, 0.0090, 0.0070, 0.0062, 0.0052, 0.0125],
    [0.0100, 0.0105, 0.0062, 0.0068, 0.0070, 0.0074, 0.0084, 0.0076, 0.0090, 0.0088, 0.0088, 0.0094, 0.0088, 0.0085, 0.0076, 0.0072, 0.0044, 0.0085, 0.0095, 0.0085, 0.0062, 0.0050, 0.0045, 0.0120],
    [0.0075, 0.0090, 0.0055, 0.0052, 0.0054, 0.0060, 0.0066, 0.0066, 0.0080, 0.0080, 0.0082, 0.0085, 0.0083, 0.0080, 0.0072, 0.0068, 0.0042, 0.0080, 0.0090, 0.0080, 0.0030, 0.0025, 0.0020, 0.0110],
    [0.0070, 0.0075, 0.0048, 0.0046, 0.0048, 0.0052, 0.0058, 0.0060, 0.0075, 0.0070, 0.0072, 0.0074, 0.0064, 0.0058, 0.0052, 0.0048, 0.0032, 0.0070, 0.0080, 0.0070, 0.0000, 0.0018, 0.0012, 0.0100],
    [0.0070, 0.0085, 0.0040, 0.0030, 0.0028, 0.0038, 0.0048, 0.0054, 0.0068, 0.0062, 0.0064, 0.0066, 0.0058, 0.0050, 0.0045, 0.0040, 0.0025, 0.0060, 0.0072, 0.0062, 0.0040, 0.0030, 0.0020, 0.0095],
    [0.0050, 0.0055, 0.0035, 0.0028, 0.0026, 0.0032, 0.0040, 0.0048, 0.0065, 0.0058, 0.0058, 0.0060, 0.0055, 0.0045, 0.0040, 0.0035, 0.0022, 0.0050, 0.0065, 0.0065, 0.0025, 0.0015, 0.0005, 0.0090],
    [0.0038, 0.0040, 0.0030, 0.0025, 0.0022, 0.0026, 0.0030, 0.0035, 0.0048, 0.0050, 0.0052, 0.0055, 0.0120, 0.0040, 0.0035, 0.0030, 0.0020, 0.0040, 0.0045, 0.0040, 0.0020, 0.0010, 0.0002, 0.0060],
]

# (g) MVUF
g_mvuf = [
    [0.0240, 0.0100, 0.0060, 0.0080, 0.0090, 0.0150, 0.0140, 0.0090, 0.0110, 0.0110, 0.0100, 0.0180, 0.0120, 0.0100, 0.0060, 0.0050, 0.0030, 0.0120, 0.0140, 0.0150, 0.0200, 0.0080, 0.0050, 0.0190],
    [0.0300, 0.0285, 0.0140, 0.0150, 0.0160, 0.0170, 0.0200, 0.0160, 0.0220, 0.0170, 0.0175, 0.0210, 0.0180, 0.0225, 0.0210, 0.0190, 0.0160, 0.0215, 0.0215, 0.0175, 0.0240, 0.0160, 0.0130, 0.0290],
    [0.0190, 0.0170, 0.0130, 0.0140, 0.0150, 0.0130, 0.0120, 0.0100, 0.0080, 0.0070, 0.0060, 0.0090, 0.0080, 0.0050, 0.0040, 0.0030, 0.0020, 0.0050, 0.0060, 0.0080, 0.0060, 0.0050, 0.0040, 0.0100],
    [0.0355, 0.0345, 0.0185, 0.0190, 0.0195, 0.0185, 0.0195, 0.0125, 0.0140, 0.0160, 0.0150, 0.0235, 0.0190, 0.0180, 0.0140, 0.0115, 0.0080, 0.0195, 0.0165, 0.0150, 0.0120, 0.0085, 0.0080, 0.0325],
    [0.0325, 0.0310, 0.0160, 0.0170, 0.0180, 0.0175, 0.0180, 0.0140, 0.0150, 0.0165, 0.0120, 0.0200, 0.0170, 0.0160, 0.0130, 0.0110, 0.0070, 0.0160, 0.0140, 0.0130, 0.0200, 0.0120, 0.0110, 0.0300],
    [0.0280, 0.0270, 0.0130, 0.0150, 0.0205, 0.0160, 0.0150, 0.0120, 0.0130, 0.0140, 0.0120, 0.0230, 0.0215, 0.0170, 0.0120, 0.0090, 0.0060, 0.0150, 0.0150, 0.0160, 0.0230, 0.0130, 0.0120, 0.0200],
    [0.0245, 0.0235, 0.0100, 0.0110, 0.0120, 0.0140, 0.0150, 0.0100, 0.0120, 0.0200, 0.0130, 0.0250, 0.0200, 0.0150, 0.0100, 0.0100, 0.0080, 0.0200, 0.0170, 0.0150, 0.0100, 0.0070, 0.0060, 0.0310],
    [0.0120, 0.0160, 0.0060, 0.0070, 0.0080, 0.0100, 0.0120, 0.0080, 0.0100, 0.0090, 0.0080, 0.0060, 0.0000, 0.0110, 0.0050, 0.0070, 0.0030, 0.0110, 0.0120, 0.0140, 0.0090, 0.0060, 0.0080, 0.0140],
    [0.0200, 0.0210, 0.0110, 0.0130, 0.0140, 0.0160, 0.0165, 0.0170, 0.0130, 0.0130, 0.0120, 0.0200, 0.0160, 0.0130, 0.0100, 0.0080, 0.0050, 0.0160, 0.0130, 0.0120, 0.0110, 0.0090, 0.0080, 0.0270],
    [0.0090, 0.0100, 0.0030, 0.0040, 0.0050, 0.0060, 0.0070, 0.0040, 0.0050, 0.0060, 0.0050, 0.0080, 0.0050, 0.0040, 0.0030, 0.0030, 0.0020, 0.0050, 0.0040, 0.0030, 0.0030, 0.0020, 0.0020, 0.0060],
    [0.0180, 0.0210, 0.0100, 0.0110, 0.0120, 0.0150, 0.0180, 0.0120, 0.0210, 0.0130, 0.0200, 0.0110, 0.0210, 0.0130, 0.0180, 0.0120, 0.0100, 0.0200, 0.0120, 0.0190, 0.0140, 0.0100, 0.0090, 0.0240],
    [0.0150, 0.0120, 0.0150, 0.0160, 0.0170, 0.0160, 0.0140, 0.0120, 0.0110, 0.0150, 0.0100, 0.0180, 0.0150, 0.0180, 0.0130, 0.0120, 0.0080, 0.0150, 0.0140, 0.0110, 0.0200, 0.0130, 0.0110, 0.0180],
    [0.0160, 0.0150, 0.0050, 0.0070, 0.0060, 0.0080, 0.0100, 0.0050, 0.0040, 0.0100, 0.0050, 0.0130, 0.0100, 0.0060, 0.0030, 0.0020, 0.0010, 0.0080, 0.0090, 0.0100, 0.0060, 0.0040, 0.0030, 0.0170],
    [0.0130, 0.0200, 0.0090, 0.0100, 0.0110, 0.0130, 0.0140, 0.0080, 0.0120, 0.0100, 0.0120, 0.0070, 0.0140, 0.0180, 0.0150, 0.0100, 0.0060, 0.0140, 0.0130, 0.0120, 0.0090, 0.0070, 0.0060, 0.0200],
    [0.0010, 0.0050, 0.0000, 0.0010, 0.0020, 0.0020, 0.0010, 0.0010, 0.0020, 0.0010, 0.0000, 0.0020, 0.0070, 0.0010, 0.0020, 0.0030, 0.0010, 0.0020, 0.0010, 0.0030, 0.0020, 0.0010, 0.0000, 0.0050],
    [0.0100, 0.0130, 0.0070, 0.0080, 0.0090, 0.0110, 0.0130, 0.0090, 0.0080, 0.0120, 0.0090, 0.0130, 0.0110, 0.0090, 0.0070, 0.0060, 0.0040, 0.0100, 0.0090, 0.0060, 0.0050, 0.0040, 0.0030, 0.0120],
    [0.0140, 0.0120, 0.0080, 0.0090, 0.0100, 0.0100, 0.0110, 0.0100, 0.0090, 0.0110, 0.0100, 0.0120, 0.0100, 0.0100, 0.0090, 0.0080, 0.0060, 0.0120, 0.0110, 0.0090, 0.0080, 0.0060, 0.0050, 0.0110],
    [0.0060, 0.0110, 0.0020, 0.0020, 0.0040, 0.0060, 0.0060, 0.0030, 0.0000, 0.0020, 0.0010, 0.0020, 0.0010, 0.0020, 0.0050, 0.0070, 0.0040, 0.0060, 0.0020, 0.0010, 0.0020, 0.0040, 0.0020, 0.0010],
    [0.0080, 0.0090, 0.0040, 0.0030, 0.0040, 0.0050, 0.0040, 0.0060, 0.0070, 0.0050, 0.0060, 0.0100, 0.0080, 0.0060, 0.0050, 0.0050, 0.0030, 0.0080, 0.0060, 0.0050, 0.0070, 0.0050, 0.0040, 0.0030],
    [0.0050, 0.0040, 0.0020, 0.0030, 0.0080, 0.0040, 0.0030, 0.0020, 0.0030, 0.0040, 0.0080, 0.0030, 0.0020, 0.0030, 0.0010, 0.0020, 0.0010, 0.0030, 0.0050, 0.0070, 0.0050, 0.0020, 0.0010, 0.0090],
    [0.0030, 0.0020, 0.0010, 0.0010, 0.0000, 0.0050, 0.0060, 0.0020, 0.0010, 0.0030, 0.0020, 0.0060, 0.0040, 0.0020, 0.0010, 0.0010, 0.0000, 0.0060, 0.0030, 0.0020, 0.0010, 0.0030, 0.0010, 0.0020],
    [0.0020, 0.0010, 0.0020, 0.0010, 0.0010, 0.0010, 0.0010, 0.0010, 0.0000, 0.0010, 0.0020, 0.0010, 0.0010, 0.0000, 0.0010, 0.0010, 0.0000, 0.0010, 0.0010, 0.0010, 0.0010, 0.0010, 0.0000, 0.0020],
    [0.0170, 0.0190, 0.0110, 0.0120, 0.0130, 0.0160, 0.0170, 0.0110, 0.0140, 0.0190, 0.0140, 0.0210, 0.0190, 0.0160, 0.0130, 0.0110, 0.0070, 0.0180, 0.0150, 0.0140, 0.0120, 0.0090, 0.0070, 0.0280],
    [0.0110, 0.0080, 0.0070, 0.0070, 0.0080, 0.0090, 0.0080, 0.0070, 0.0060, 0.0070, 0.0080, 0.0090, 0.0090, 0.0080, 0.0070, 0.0060, 0.0050, 0.0090, 0.0080, 0.0080, 0.0060, 0.0070, 0.0050, 0.0080],
]

# ---------------------------------------------------------------- styling
SERIF = "Liberation Serif"
FRAME = "#4a4a4a"
PHASE_COLORS = ["#1f56a8", "#ec2a2a", "#6cbd45"]
MATLAB_COLORS = ["#0072BD", "#D95319", "#EDB120", "#7E2F8E", "#77AC30", "#4DBEEE", "#A2142F"]
BLANK = "\u2800"   # blank glyph that pads the legend labels on the right


def to_long(series_list, key, phase=""):
    rows = []
    for i, values in enumerate(series_list):
        for h, v in zip(hours, values):
            rows.append({"hour": h, "v": v, "series": f"{key}{i:02d}", "phase": phase})
    return pd.DataFrame(rows)


def x_channel():
    return alt.X(
        "hour:Q",
        scale=alt.Scale(domain=[1, 24], nice=False, zero=False),
        axis=alt.Axis(values=hour_ticks, title="Time t (hour)", labelPadding=4,
                      titlePadding=1, labelFlush=False),
    )


def y_channel(domain, ticks, title, label_expr, label_pad, title_pad):
    return alt.Y(
        "v:Q",
        scale=alt.Scale(domain=domain, nice=False, zero=False),
        axis=alt.Axis(values=ticks, title=title, labelExpr=label_expr,
                      labelPadding=label_pad, titlePadding=title_pad, labelFlush=False),
    )


def frame(w, h, xc, yc, yticks):
    """Box around the plot with inward ticks on all four sides."""
    xt = pd.DataFrame({"hour": hour_ticks})
    yt = pd.DataFrame({"v": yticks})
    rule = dict(color=FRAME, strokeWidth=1)
    return [
        alt.Chart(xt).mark_rule(**rule).encode(x=xc, y=alt.value(h - 5), y2=alt.value(h)),
        alt.Chart(xt).mark_rule(**rule).encode(x=xc, y=alt.value(0), y2=alt.value(5)),
        alt.Chart(yt).mark_rule(**rule).encode(y=yc, x=alt.value(0), x2=alt.value(5)),
        alt.Chart(yt).mark_rule(**rule).encode(y=yc, x=alt.value(w - 5), x2=alt.value(w)),
        alt.Chart(pd.DataFrame({"k": [0]})).mark_rect(
            fillOpacity=0, stroke=FRAME, strokeWidth=1
        ).encode(x=alt.value(0), x2=alt.value(w), y=alt.value(0), y2=alt.value(h)),
    ]


def caption(text):
    return alt.TitleParams(text=text, orient="bottom", anchor="middle", font=SERIF,
                           fontSize=21, fontWeight="bold", color="#111", offset=14)


def phase_color(lx, ly):
    # a short nominal symbol drawn as a long stroke keeps the rows tight
    return alt.Color(
        "phase:N",
        scale=alt.Scale(domain=phase_names, range=PHASE_COLORS),
        legend=alt.Legend(
            orient="none", legendX=lx, legendY=ly, title=None,
            symbolType="M-2,0H2", symbolSize=121, symbolStrokeWidth=2,
            symbolOffset=11.5, labelOffset=9.5, labelFont=SERIF, labelFontSize=12.5,
            labelColor="#222", padding=4, rowPadding=1,
            strokeColor="#222", fillColor="white",
            labelExpr="':' + datum.label + '" + BLANK * 2 + "'",
        ),
    )


def phase_panel(groups, w, h, ydomain, yticks, ytitle, label_expr, label_pad,
                title_pad, legend_xy, text, thin_w, dense_w):
    xc = x_channel()
    yc = y_channel(ydomain, yticks, ytitle, label_expr, label_pad, title_pad)
    color = phase_color(*legend_xy)
    layers = []
    for phase, (thin, dense) in zip(phase_names, groups):
        key = phase[-1]
        if dense:
            layers.append(
                alt.Chart(to_long(dense, key + "d", phase))
                .mark_line(strokeWidth=dense_w, clip=True)
                .encode(x=xc, y=yc, color=color, detail="series:N")
            )
        layers.append(
            alt.Chart(to_long(thin, key + "t", phase))
            .mark_line(strokeWidth=thin_w, clip=True)
            .encode(x=xc, y=yc, color=color, detail="series:N")
        )
    layers += frame(w, h, xc, yc, yticks)
    return alt.layer(*layers).properties(width=w, height=h, title=caption(text))


def multi_panel(series, key, w, h, ydomain, yticks, ytitle, label_expr, label_pad,
                title_pad, text):
    xc = x_channel()
    yc = y_channel(ydomain, yticks, ytitle, label_expr, label_pad, title_pad)
    df = to_long(series, key)
    ids = [f"{key}{i:02d}" for i in range(len(series))]
    palette = [MATLAB_COLORS[i % len(MATLAB_COLORS)] for i in range(len(ids))]
    lines = alt.Chart(df).mark_line(strokeWidth=1.1, clip=True).encode(
        x=xc, y=yc,
        color=alt.Color("series:N", scale=alt.Scale(domain=ids, range=palette), legend=None),
    )
    return alt.layer(lines, *frame(w, h, xc, yc, yticks)).properties(
        width=w, height=h, title=caption(text))


def gap(w, h):
    return alt.Chart(pd.DataFrame({"k": [0]})).mark_point(opacity=0).encode(
        x=alt.value(0), y=alt.value(0)).properties(width=w, height=h)


def row(*charts):
    return (alt.hconcat(*charts, spacing=0, bounds="flush")
            .resolve_scale(color="independent")
            .resolve_legend(color="independent"))


int_labels = "'' + datum.value"
volt_labels = "datum.value == 1 ? '1.0' : format(datum.value, '.2f')"
vuf_labels = "datum.value == 0 ? '0' : format(datum.value, '.2f')"

# plot heights of the four rows and the distance from one row's top to the next
H1, H2, H3, H4 = 301, 305, 298, 302
TOP, STEP1, STEP2, STEP3 = 8, 406, 412, 408

panel_a = phase_panel(
    [(a_phase_a, None), (a_phase_b, None), (a_phase_c, None)],
    480, H1, [-30, 10], load_ticks, "Load profile  (kW)", int_labels, 6, 10,
    (344, 142), "(a)", 1.5, 1.5)
panel_b = multi_panel(b_total, "b", 479, H1, [-60, 30], total_ticks,
                      "Total load profile  (kW)", int_labels, 6, 7, "(b)")
panel_c = phase_panel(
    [(c_phase_a, c_phase_a_dense), (c_phase_b, c_phase_b_dense), (c_phase_c, c_phase_c_dense)],
    471, H2, [0.95, 1.052], voltage_ticks, "Node voltage (p.u.)", volt_labels, 5, 14,
    (337, 226), "(c)", 1.2, 7)
panel_d = phase_panel(
    [(d_phase_a, d_phase_a_dense), (d_phase_b, d_phase_b_dense), (d_phase_c, d_phase_c_dense)],
    473, H2, [0.95, 1.052], voltage_ticks, "Node voltage (p.u.)", volt_labels, 5, 9,
    (338, 226), "(d)", 1.2, 4.5)
panel_e = multi_panel(e_vuf1, "e", 467, H3, [0, 0.08], vuf_ticks,
                      "VUF\u2081  E\u2082/E\u2081", vuf_labels, 4, 10, "(e)")
panel_f = multi_panel(f_vuf2, "f", 466, H3, [0, 0.08], vuf_ticks,
                      "VUF\u2082  E\u2080/E\u2081", vuf_labels, 4, 8, "(f)")
panel_g = multi_panel(g_mvuf, "g", 473, H4, [0, 0.08], vuf_ticks,
                      "MVUF", vuf_labels, 4, 10, "(g)")

# The nested rows take no height of their own in a flush stack, so the
# vertical spacers carry each row's full step.
chart = (
    alt.vconcat(
        gap(1, TOP),
        row(gap(68, H1), panel_a, gap(97, H1), panel_b),
        gap(1, STEP1),
        row(gap(68, H2), panel_c, gap(103, H2), panel_d),
        gap(1, STEP2),
        row(gap(72, H3), panel_e, gap(110, H3), panel_f),
        gap(1, STEP3),
        row(gap(351, H4), panel_g),
        gap(1, H4 + 76),
        spacing=0,
        bounds="flush",
    )
    .resolve_scale(color="independent")
    .resolve_legend(color="independent")
    .properties(padding=0, background="white")
    .configure_view(strokeWidth=0)
    .configure_axis(
        labelFont=SERIF, titleFont=SERIF, labelFontSize=14, titleFontSize=14.5,
        labelColor="#4d4d4d", titleColor="#333", titleFontWeight="normal",
        ticks=False, tickSize=0, domain=False, grid=False,
    )
)

chart.save("out.html", embed_options={"renderer": "svg", "actions": False})
